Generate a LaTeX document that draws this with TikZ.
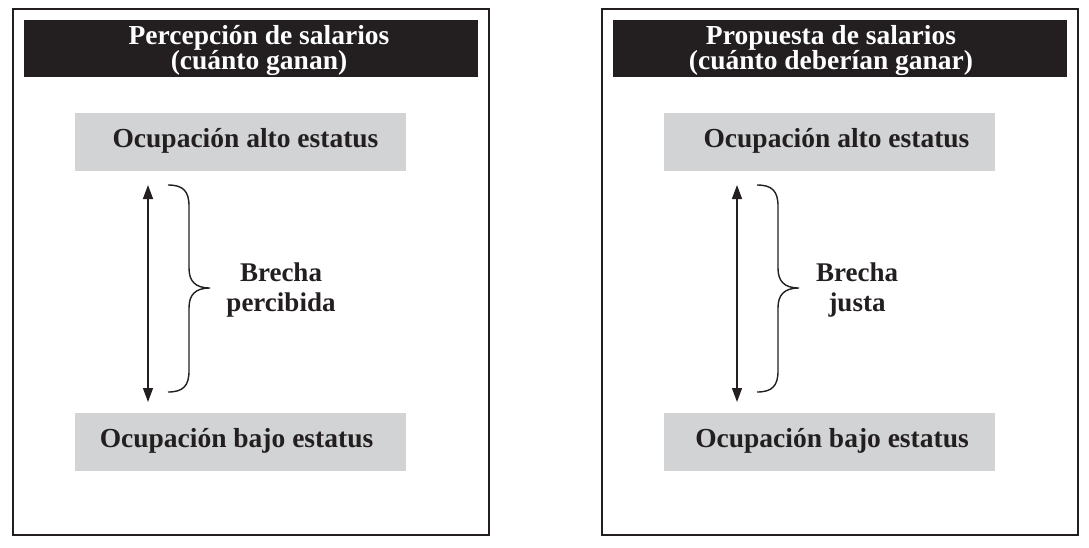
\documentclass[tikz,border=0pt]{standalone}
\usepackage{fontspec}
\setmainfont{Liberation Serif}
\usetikzlibrary{arrows.meta}
\definecolor{ink}{HTML}{231F20}
\definecolor{boxgray}{HTML}{D1D3D4}
\tikzset{
  frame/.style={draw=ink, line width=2pt, minimum width=476pt, minimum height=526pt, inner sep=0pt},
  header/.style={fill=ink, minimum width=454pt, minimum height=57pt, inner sep=0pt},
  headtext/.style={text=white, align=center, font=\fontsize{27.5}{25}\selectfont\bfseries},
  occbox/.style={fill=boxgray, minimum width=331pt, minimum height=58pt, inner sep=0pt},
  occtext/.style={text=ink, font=\fontsize{27.5}{28}\selectfont\bfseries},
  gaplabel/.style={text=ink, align=center, font=\fontsize{27}{30}\selectfont\bfseries},
  gaparrow/.style={draw=ink, line width=1.4pt, {Triangle[width=10pt,length=14pt]}-{Triangle[width=10pt,length=14pt]}},
  bracepath/.style={draw=ink, line width=1.4pt}
}
\begin{document}
\begin{tikzpicture}[x=1pt,y=-1pt]
\useasboundingbox (0,0) rectangle (1089,547);
% left panel
\node[frame] (fL) at (251,272) {};
\node[header] (hL) at (251,48.5) {};
\node[headtext] (tL) at (259,50.5) {Percepción de salarios\\(cuánto ganan)};
\node[occbox] (aL) at (240.5,142) {};
\node[occtext] (atxL) at (245.5,141) {Ocupación alto estatus};
\node[occbox] (bL) at (240.5,441.5) {};
\node[occtext] (btxL) at (236.5,440.5) {Ocupación bajo estatus};
\coordinate (atL) at (148,185);
\coordinate (abL) at (148,402);
\draw[gaparrow] (atL) -- (abL);
\coordinate (btL) at (168,185);
\coordinate (bmL) at (210,288);
\coordinate (bbL) at (168,392);
\draw[bracepath] (btL) .. controls (183,185) and (189,191) .. (189,206) -- (189,268)
  .. controls (189,281) and (195,288) .. (bmL)
  .. controls (195,288) and (189,295) .. (189,308) -- (189,371)
  .. controls (189,386) and (183,392) .. (bbL);
\node[gaplabel] (gL) at (281,290) {Brecha\\percibida};
% right panel
\node[frame] (fR) at (840,272) {};
\node[header] (hR) at (840,48.5) {};
\node[headtext] (tR) at (831,50.5) {Propuesta de salarios\\(cuánto deberían ganar)};
\node[occbox] (aR) at (829.5,142) {};
\node[occtext] (atxR) at (836.5,141) {Ocupación alto estatus};
\node[occbox] (bR) at (829.5,441.5) {};
\node[occtext] (btxR) at (832,440.5) {Ocupación bajo estatus};
\coordinate (atR) at (737,185);
\coordinate (abR) at (737,402);
\draw[gaparrow] (atR) -- (abR);
\coordinate (btR) at (757,185);
\coordinate (bmR) at (799,288);
\coordinate (bbR) at (757,392);
\draw[bracepath] (btR) .. controls (772,185) and (778,191) .. (778,206) -- (778,268)
  .. controls (778,281) and (784,288) .. (bmR)
  .. controls (784,288) and (778,295) .. (778,308) -- (778,371)
  .. controls (778,386) and (772,392) .. (bbR);
\node[gaplabel] (gR) at (857,290) {Brecha\\justa};
\end{tikzpicture}
\end{document}
